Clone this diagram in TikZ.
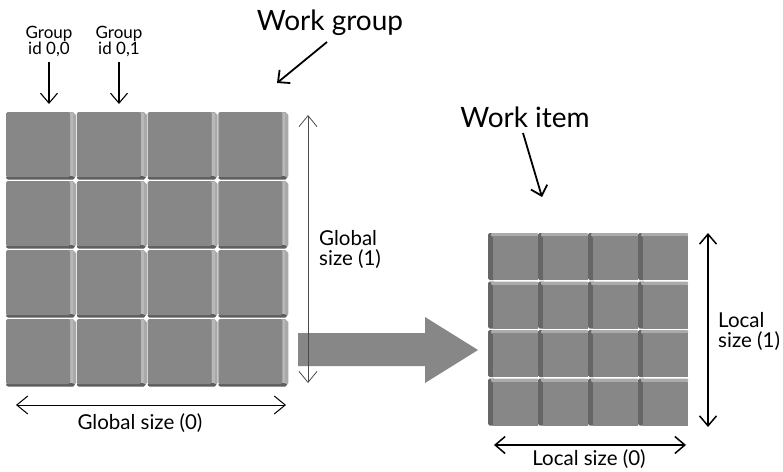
\documentclass[tikz,border=0pt]{standalone}
\usepackage{fontspec}
\setmainfont{Lato}
\usetikzlibrary{arrows.meta}
\definecolor{face}{HTML}{878787}
\definecolor{sidel}{HTML}{A9A9A9}
\definecolor{sidell}{HTML}{B8B8B8}
\definecolor{sided}{HTML}{5E5E5E}
\definecolor{toplight}{HTML}{ABABAB}
\definecolor{ldark}{HTML}{666666}
\definecolor{thinline}{HTML}{4A4A4A}
\tikzset{
  pointer/.style={line width=1.8pt,-{Straight Barb[length=9pt,width=17pt]}},
  smallpointer/.style={line width=1.1pt,-{Straight Barb[length=10pt,width=17pt]}},
  thindim/.style={line width=0.8pt,draw=thinline,{Straight Barb[length=11pt,width=18pt]}-{Straight Barb[length=11pt,width=18pt]}},
  thickdim/.style={line width=1.5pt,{Straight Barb[length=10pt,width=17pt]}-{Straight Barb[length=10pt,width=17pt]}},
  biglabel/.style={font=\fontsize{28}{30}\selectfont,inner sep=0pt},
  midlabel/.style={font=\fontsize{20.5}{20}\selectfont,inner sep=0pt},
  smalllabel/.style={font=\fontsize{17}{16}\selectfont,inner sep=0pt,align=center},
}
\begin{document}
\begin{tikzpicture}[x=1pt,y=-1pt]
\useasboundingbox (0,0) rectangle (783,471);
\fill[white] (0,0) rectangle (783,471);

% left grid (work groups)
\foreach \i in {0,...,3}{\foreach \j in {0,...,3}{
  \pgfmathsetmacro\xa{6+70.75*\i}
  \pgfmathsetmacro\ya{112+69*\j}
  \fill[sidel] (\xa+62,\ya) -- (\xa+67,\ya) -- (\xa+70,\ya+3) -- (\xa+70,\ya+64) -- (\xa+67,\ya+67) -- (\xa+62,\ya+67) -- cycle;
  \fill[sidell] (\xa+64,\ya+1) rectangle (\xa+67,\ya+66);
  \fill[sided] (\xa+1,\ya+64) -- (\xa+66,\ya+64) -- (\xa+69,\ya+65.5) -- (\xa+67,\ya+67.5) -- (\xa+2,\ya+67.5) -- (\xa,\ya+66) -- cycle;
  \fill[face,rounded corners=1.5pt] (\xa,\ya) rectangle (\xa+64,\ya+65);
}}

% big block arrow
\fill[face] (298,333) -- (425,333) -- (425,317) -- (478,350) -- (425,383) -- (425,366) -- (298,366) -- cycle;

% right grid (work items)
\foreach \i in {0,...,3}{\foreach \j in {0,...,3}{
  \pgfmathsetmacro\xa{488+50*\i}
  \pgfmathsetmacro\ya{233+48.5*\j}
  \fill[ldark,rounded corners=1.5pt] (\xa,\ya) rectangle (\xa+7,\ya+47);
  \fill[toplight,rounded corners=1pt] (\xa+3,\ya) rectangle (\xa+50,\ya+3.5);
  \fill[face] (\xa+5,\ya+3) rectangle (\xa+50,\ya+47);
}}

% labels
\node[biglabel,anchor=base] (wg) at (330,30) {Work group};
\node[biglabel,anchor=base] (wi) at (525,127) {Work item};
\node[smalllabel,anchor=base] (g0) at (49,54) {Group\\id 0,0};
\node[smalllabel,anchor=base] (g1) at (119,54) {Group\\id 0,1};
\node[midlabel,anchor=base] (gs0) at (140,429) {Global size (0)};
\node[midlabel,anchor=base west,align=left] (gs1) at (319,265) {Global\\size (1)};
\node[midlabel,anchor=base] (ls0) at (589,465) {Local size (0)};
\node[midlabel,anchor=base west,align=left] (ls1) at (718,347) {Local\\size (1)};

% pointer arrows
\coordinate (wgs) at (327,42);
\coordinate (wge) at (277,83);
\draw[pointer] (wgs) -- (wge);
\coordinate (wis) at (523,133);
\coordinate (wie) at (542,197);
\draw[pointer] (wis) -- (wie);
\coordinate (g0s) at (49,62);
\coordinate (g0e) at (49,104);
\draw[smallpointer] (g0s) -- (g0e);
\coordinate (g1s) at (119,62);
\coordinate (g1e) at (119,104);
\draw[smallpointer] (g1s) -- (g1e);

% dimension arrows
\coordinate (gv1) at (308,115);
\coordinate (gv2) at (308,383);
\draw[thindim] (gv1) -- (gv2);
\coordinate (gh1) at (16,405);
\coordinate (gh2) at (286,405);
\draw[thindim,draw=black,line width=1pt] (gh1) -- (gh2);
\coordinate (lv1) at (708,233);
\coordinate (lv2) at (708,427);
\draw[thickdim] (lv1) -- (lv2);
\coordinate (lh1) at (494,445);
\coordinate (lh2) at (686,445);
\draw[thickdim] (lh1) -- (lh2);
\end{tikzpicture}
\end{document}
